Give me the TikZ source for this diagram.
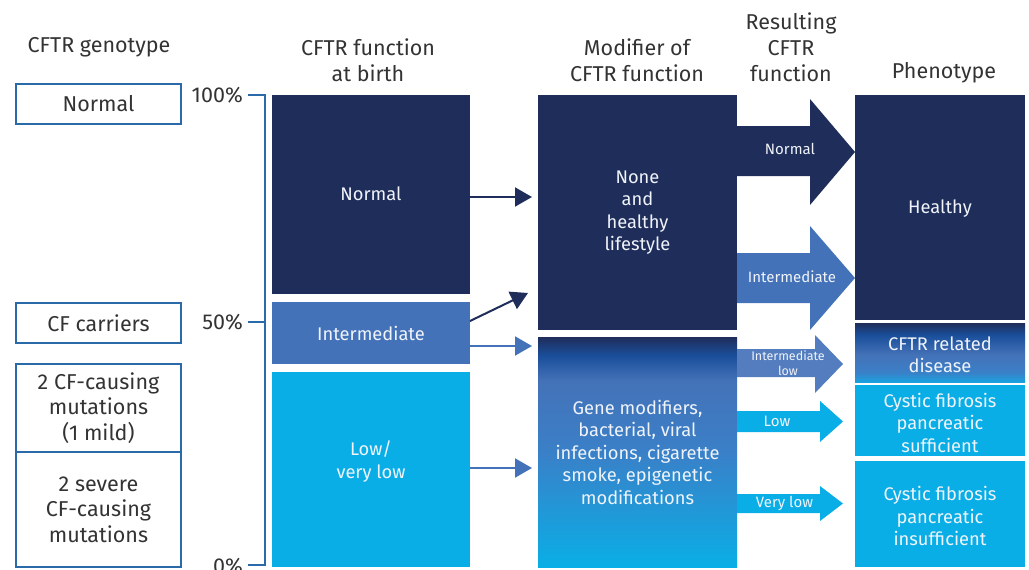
\documentclass[tikz,border=0pt]{standalone}
\usepackage{fontspec}
\setmainfont{Fira Sans}
\usetikzlibrary{arrows.meta,calc}
\definecolor{navy}{HTML}{1F2D5A}
\definecolor{midblue}{HTML}{4472B8}
\definecolor{lightblue}{HTML}{0AAEE6}
\definecolor{richblue}{HTML}{1A4E9A}
\definecolor{edgeblue}{HTML}{2A6AA8}
\definecolor{headgray}{HTML}{333333}
\definecolor{txtwhite}{HTML}{F0F4FA}
\definecolor{gmid}{HTML}{3A80C8}
\definecolor{rbottom}{HTML}{18A2E0}
\pgfdeclareverticalshading{genemod}{100bp}{color(0bp)=(lightblue); color(25bp)=(lightblue); color(50bp)=(gmid); color(65.5bp)=(midblue); color(71bp)=(richblue); color(75bp)=(navy); color(100bp)=(navy)}
\pgfdeclareverticalshading{relshade}{100bp}{color(0bp)=(rbottom); color(25bp)=(rbottom); color(33bp)=(gmid); color(48bp)=(midblue); color(65bp)=(richblue); color(75bp)=(navy); color(100bp)=(navy)}
\tikzset{
  geno/.style={draw=edgeblue, line width=1.2pt, fill=white, inner sep=0pt, outer sep=0pt,
    text=headgray, align=center, minimum width=165pt, font=\fontsize{21.5}{25.5}\selectfont},
  bar/.style={inner sep=0pt, outer sep=0pt, text=txtwhite, align=center,
    font=\fontsize{18.3}{22.5}\selectfont},
  head/.style={text=headgray, align=center, inner sep=0pt, font=\fontsize{21.5}{25.8}\selectfont},
  thinarrow/.style={line width=2pt, shorten >=6pt, -{Triangle[length=17pt,width=19pt]}},
  alabel/.style={text=txtwhite, inner sep=0pt, align=center, font=\fontsize{15}{18}\selectfont},
  slabel/.style={text=txtwhite, inner sep=0pt, align=center, font=\fontsize{12.5}{15}\selectfont},
}
\begin{document}
\begin{tikzpicture}[x=1pt, y=-1pt]
\useasboundingbox (0,0) rectangle (1029,570);

% headers
\node[head] (h1) at (99,47.5) {CFTR genotype};
\node[head] (h2) at (368,60) {CFTR function\\at birth};
\node[head] (h3) at (637,60) {Modifier of\\CFTR function};
\node[head] (h4) at (791,47) {Resulting\\CFTR\\function};
\node[head] (h5) at (944,72.5) {Phenotype};

% genotype boxes
\node[geno, minimum height=40pt] (g1) at (98.5,104) {Normal};
\node[geno, minimum height=40pt] (g2) at (98.5,323) {CF carriers};
\node[geno, minimum height=88pt] (g3) at (98.5,408) {2 CF-causing\\mutations\\(1 mild)};
\node[geno, minimum height=115pt] (g4) at (98.5,509.5) {2 severe\\CF-causing\\mutations};

% axis
\draw[edgeblue, line width=1.2pt] (248,95) -- (265,95) -- (265,565) -- (248,565);
\draw[edgeblue, line width=1.2pt] (248,322) -- (265,322);
\node[head, anchor=east] (l100) at (243,95.5) {100\%};
\node[head, anchor=east] (l50) at (243,322) {50\%};
\node[head, anchor=east] (l0) at (243,566) {0\%};

% CFTR function at birth
\node[bar, fill=navy, minimum width=198pt, minimum height=199pt] (b1) at (371,194.5) {};
\node[bar] (b1t) at (371,193.5) {Normal};
\node[bar, fill=midblue, minimum width=198pt, minimum height=62pt] (b2) at (371,333) {Intermediate};
\node[bar, fill=lightblue, minimum width=198pt, minimum height=195pt] (b3) at (371,469.5) {};
\node[bar] (b3t) at (371,461.5) {Low/\\very low};

% modifiers
\node[bar, fill=navy, minimum width=199pt, minimum height=235pt] (m1) at (637.5,212.5) {};
\node[bar] (m1t) at (637.5,212.5) {None\\and\\healthy\\lifestyle};
\node[bar, shading=genemod, minimum width=199pt, minimum height=230pt] (m2) at (637.5,452) {Gene modifiers,\\bacterial, viral\\infections, cigarette\\smoke, epigenetic\\modifications};

% phenotype
\node[bar, fill=navy, minimum width=170pt, minimum height=225pt] (p1) at (940,207.5) {};
\node[bar] (p1t) at (940,209) {Healthy};
\node[bar, shading=relshade, minimum width=170pt, minimum height=59pt] (p2) at (940,352.5) {};
\node[bar] (p2t) at (940,354.5) {CFTR related\\disease};
\node[bar, fill=lightblue, minimum width=170pt, minimum height=71pt] (p3) at (940,420.5) {};
\node[bar] (p3t) at (940,422.5) {Cystic fibrosis\\pancreatic\\sufficient};
\node[bar, fill=lightblue, minimum width=170pt, minimum height=106pt] (p4) at (940,514) {};
\node[bar] (p4t) at (940,516) {Cystic fibrosis\\pancreatic\\insufficient};

% thin arrows
\coordinate (d1) at (528,293);
\draw[thinarrow, navy] ([yshift=-2.5pt]b1.east) -- ([yshift=-2.5pt]b1.east -| m1.west);
\draw[thinarrow, navy, shorten >=0pt] ([yshift=12pt]b2.east) -- (d1);
\draw[thinarrow, midblue] ([yshift=-13pt]b2.east) -- ([yshift=-13pt]b2.east -| m2.west);
\draw[thinarrow, midblue] ([yshift=1.5pt]b3.east) -- ([yshift=1.5pt]b3.east -| m2.west);

% big arrows
\fill[navy] (737,126) -- (810,126) -- (810,99) -- (855,152) -- (810,205) -- (810,176) -- (737,176) -- cycle;
\fill[midblue] (737,253) -- (810,253) -- (810,226) -- (855,278) -- (810,330) -- (810,303) -- (737,303) -- cycle;
\fill[midblue!92!white] (737,349) -- (815,349) -- (815,335) -- (843,364) -- (815,393) -- (815,377) -- (737,377) -- cycle;
\fill[lightblue] (737,411) -- (820,411) -- (820,401) -- (843,421.5) -- (820,442) -- (820,432) -- (737,432) -- cycle;
\fill[lightblue] (737,494) -- (820,494) -- (820,486) -- (843,503.5) -- (820,521) -- (820,513) -- (737,513) -- cycle;

\node[alabel] (a1) at (790,149) {Normal};
\node[alabel] (a2) at (792,277) {Intermediate};
\node[slabel] (a3) at (788,363) {Intermediate\\low};
\node[alabel] (a4) at (777,421) {Low};
\node[alabel] (a5) at (784.5,503) {Very low};
\end{tikzpicture}
\end{document}
